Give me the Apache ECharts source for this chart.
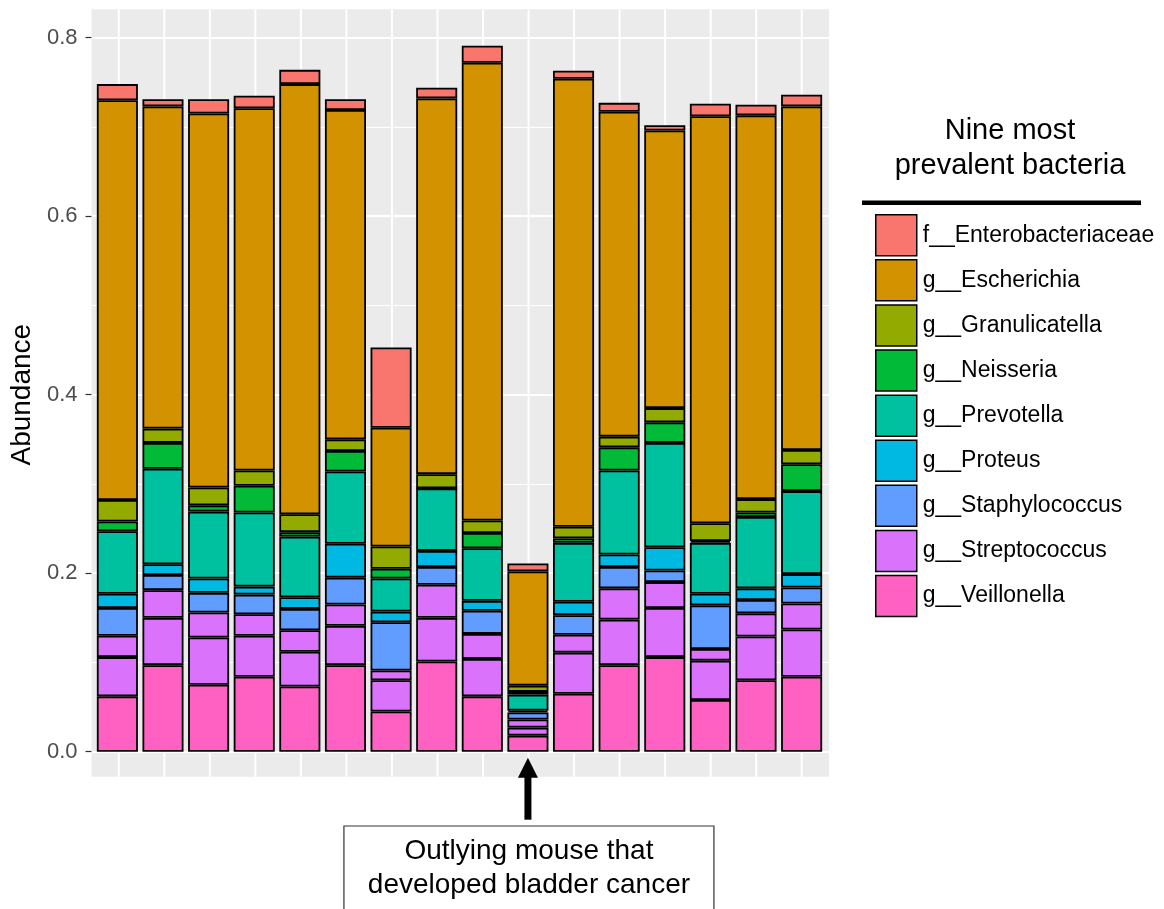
<!DOCTYPE html>
<html>
<head>
<meta charset="utf-8">
<script src="https://cdn.jsdelivr.net/npm/echarts@6/dist/echarts.min.js"></script>
<style>
  html, body { margin: 0; padding: 0; background: #ffffff; }
  #chart { width: 1164px; height: 909px; }
</style>
</head>
<body>
<div id="chart"></div>
<script>
// ---- data -----------------------------------------------------------------
const SAMPLES = ['M01', 'M02', 'M03', 'M04', 'M05', 'M06', 'M07', 'M08',
                 'M09', 'M10', 'M11', 'M12', 'M13', 'M14', 'M15', 'M16'];
const OUTLIER = 'M10';

// relative abundance of each segment, bottom of the stack first
const veillonella    = [0.062, 0.097, 0.075, 0.084, 0.073, 0.097, 0.045, 0.101, 0.062, 0.018, 0.065, 0.097, 0.106, 0.058, 0.080, 0.084];
const streptococcusA = [0.044, 0.053, 0.053, 0.046, 0.039, 0.044, 0.035, 0.049, 0.042, 0.009, 0.046, 0.051, 0.055, 0.044, 0.049, 0.053];
const streptococcusB = [0.024, 0.031, 0.028, 0.024, 0.024, 0.024, 0.011, 0.037, 0.028, 0.009, 0.020, 0.035, 0.029, 0.013, 0.026, 0.029];
const staphylococcus = [0.031, 0.017, 0.022, 0.022, 0.024, 0.030, 0.054, 0.020, 0.026, 0.008, 0.022, 0.024, 0.013, 0.049, 0.015, 0.018];
const proteus        = [0.016, 0.012, 0.016, 0.009, 0.013, 0.038, 0.012, 0.018, 0.011, 0.002, 0.015, 0.014, 0.026, 0.013, 0.013, 0.015];
const prevotella     = [0.070, 0.107, 0.075, 0.083, 0.068, 0.081, 0.037, 0.070, 0.059, 0.018, 0.066, 0.094, 0.117, 0.057, 0.080, 0.093];
const neisseria      = [0.011, 0.029, 0.007, 0.030, 0.005, 0.023, 0.011, 0.000, 0.017, 0.003, 0.005, 0.026, 0.023, 0.002, 0.005, 0.030];
const granulicatella = [0.024, 0.016, 0.020, 0.017, 0.020, 0.013, 0.025, 0.016, 0.014, 0.007, 0.013, 0.012, 0.016, 0.020, 0.015, 0.016];
const escherichia    = [0.448, 0.361, 0.419, 0.406, 0.482, 0.369, 0.133, 0.421, 0.513, 0.128, 0.502, 0.364, 0.311, 0.456, 0.430, 0.385];
const enterobacteriaceae = [0.018, 0.008, 0.016, 0.014, 0.016, 0.012, 0.090, 0.012, 0.019, 0.009, 0.009, 0.010, 0.006, 0.014, 0.012, 0.013];

// legend order (top to bottom)
const TAXA = ['f__Enterobacteriaceae', 'g__Escherichia', 'g__Granulicatella', 'g__Neisseria',
              'g__Prevotella', 'g__Proteus', 'g__Staphylococcus', 'g__Streptococcus', 'g__Veillonella'];

const Y_TICKS = [0, 0.2, 0.4, 0.6, 0.8];

// ---- styling --------------------------------------------------------------
const COLORS = {
  'f__Enterobacteriaceae': '#F8766D',
  'g__Escherichia': '#D39200',
  'g__Granulicatella': '#93AA00',
  'g__Neisseria': '#00BA38',
  'g__Prevotella': '#00C19F',
  'g__Proteus': '#00B9E3',
  'g__Staphylococcus': '#619CFF',
  'g__Streptococcus': '#DB72FB',
  'g__Veillonella': '#FF61C3'
};
const FONT = '"Liberation Sans", Arial, sans-serif';

// stacking order, bottom → top
const LAYERS = [
  ['g__Veillonella', veillonella],
  ['g__Streptococcus', streptococcusA],
  ['g__Streptococcus', streptococcusB],
  ['g__Staphylococcus', staphylococcus],
  ['g__Proteus', proteus],
  ['g__Prevotella', prevotella],
  ['g__Neisseria', neisseria],
  ['g__Granulicatella', granulicatella],
  ['g__Escherichia', escherichia],
  ['f__Enterobacteriaceae', enterobacteriaceae]
];

// ---- layout ---------------------------------------------------------------
const PANEL = { left: 90, right: 335, top: 37.7, bottom: 157.3 };   // grid for the 0–0.8 range
const PANEL_W = 1164 - PANEL.left - PANEL.right;
const PAD = 0.6;                                      // discrete axis padding, in slots
const SLOT = PANEL_W / (SAMPLES.length - 1 + 2 * PAD);
const INSET = SLOT * (PAD - 0.5);                     // category-band grid inset

// panel extent in data units
const X_LO = -PAD, X_HI = SAMPLES.length - 1 + PAD;
const Y_LO = -0.028, Y_HI = 0.8318;

const chart = echarts.init(document.getElementById('chart'), null, { renderer: 'canvas' });

const barSeries = LAYERS.map(([name, vals]) => ({
  type: 'bar',
  name: name,
  xAxisIndex: 1,
  yAxisIndex: 1,
  stack: 'abundance',
  barWidth: '90%',
  data: vals,
  itemStyle: { color: COLORS[name], borderColor: '#000000', borderWidth: 1.8 },
  emphasis: { disabled: true },
  z: 3
}));

const panelSeries = {
  type: 'custom',
  xAxisIndex: 0,
  yAxisIndex: 0,
  silent: true,
  z: -2,
  clip: false,
  data: [[0]],
  renderItem: (params, api) => {
    const a = api.coord([X_LO, Y_HI]);
    const b = api.coord([X_HI, Y_LO]);
    return {
      type: 'rect',
      shape: { x: a[0], y: a[1], width: b[0] - a[0], height: b[1] - a[1] },
      style: { fill: '#EBEBEB' }
    };
  }
};

const vGridSeries = {
  type: 'custom',
  xAxisIndex: 0,
  yAxisIndex: 0,
  silent: true,
  z: -1,
  clip: false,
  data: SAMPLES.map((s, i) => [i]),
  renderItem: (params, api) => {
    const i = api.value(0);
    const a = api.coord([i, Y_HI]);
    const b = api.coord([i, Y_LO]);
    return {
      type: 'line',
      shape: { x1: a[0], y1: a[1], x2: b[0], y2: b[1] },
      style: { stroke: '#FFFFFF', lineWidth: 2 }
    };
  }
};

const yMin = Y_TICKS[0], yMax = Y_TICKS[Y_TICKS.length - 1], yStep = Y_TICKS[1] - Y_TICKS[0];

chart.setOption({
  animation: false,
  backgroundColor: '#ffffff',
  textStyle: { fontFamily: FONT },
  grid: [
    { left: PANEL.left, right: PANEL.right, top: PANEL.top, bottom: PANEL.bottom },
    { left: PANEL.left + INSET, right: PANEL.right + INSET, top: PANEL.top, bottom: PANEL.bottom }
  ],
  xAxis: [
    {
      type: 'value', gridIndex: 0, min: X_LO, max: X_HI,
      axisLine: { show: false }, axisTick: { show: false },
      axisLabel: { show: false }, splitLine: { show: false }
    },
    {
      type: 'category', gridIndex: 1, data: SAMPLES, boundaryGap: true,
      axisLine: { show: false }, axisTick: { show: false },
      axisLabel: { show: false }, splitLine: { show: false }
    }
  ],
  yAxis: [
    {
      type: 'value', gridIndex: 0,
      min: yMin, max: yMax, interval: yStep,
      name: 'Abundance',
      nameLocation: 'middle',
      nameRotate: 90,
      nameGap: 50,
      nameTextStyle: { color: '#000000', fontSize: 28, fontFamily: FONT },
      axisLine: { show: false, onZero: false },
      axisTick: { show: true, length: 6, lineStyle: { color: '#333333', width: 1.2 } },
      axisLabel: {
        color: '#4D4D4D', fontSize: 22, margin: 14, fontFamily: FONT,
        formatter: v => v.toFixed(1)
      },
      splitLine: { show: true, lineStyle: { color: '#FFFFFF', width: 2 } },
      minorTick: { show: false, splitNumber: 2 },
      minorSplitLine: { show: true, lineStyle: { color: '#FFFFFF', width: 1 } }
    },
    {
      type: 'value', gridIndex: 1,
      min: yMin, max: yMax, interval: yStep,
      axisLine: { show: false, onZero: false }, axisTick: { show: false },
      axisLabel: { show: false }, splitLine: { show: false }
    }
  ],
  legend: {
    data: TAXA,
    orient: 'vertical',
    left: 875,
    top: 214,
    padding: 0,
    icon: 'rect',
    itemWidth: 41,
    itemHeight: 41,
    itemGap: 2.6,
    selectedMode: false,
    itemStyle: { borderColor: '#000000', borderWidth: 1.5 },
    textStyle: { color: '#000000', fontSize: 23, fontFamily: FONT, padding: [0, 0, 0, 1] }
  },
  series: [panelSeries, vGridSeries, ...barSeries]
});

// ---- legend heading and annotation ---------------------------------------
const arrowX = chart.convertToPixel({ xAxisIndex: 1 }, OUTLIER);
const arrowTip = chart.convertToPixel({ yAxisIndex: 0 }, Y_LO) - 19;

chart.setOption({
  graphic: [
    {
      type: 'text',
      x: 1010, y: 113,
      style: {
        text: 'Nine most\nprevalent bacteria',
        fill: '#000000', font: '29px ' + FONT, align: 'center', lineHeight: 35
      }
    },
    { type: 'rect', shape: { x: 862, y: 200.5, width: 279, height: 4.5 }, style: { fill: '#000000' } },
    {
      type: 'polygon',
      shape: { points: [[arrowX, arrowTip], [arrowX - 10, arrowTip + 20], [arrowX + 10, arrowTip + 20]] },
      style: { fill: '#000000' }
    },
    { type: 'rect', shape: { x: arrowX - 3.5, y: arrowTip + 18, width: 7, height: 44 }, style: { fill: '#000000' } },
    {
      type: 'rect',
      shape: { x: arrowX - 184, y: 826, width: 370, height: 100 },
      style: { fill: '#ffffff', stroke: '#333333', lineWidth: 1.2 }
    },
    {
      type: 'text',
      x: arrowX + 1, y: 834,
      style: {
        text: 'Outlying mouse that\ndeveloped bladder cancer',
        fill: '#000000', font: '28px ' + FONT, align: 'center', lineHeight: 34
      }
    }
  ]
});
</script>
</body>
</html>
